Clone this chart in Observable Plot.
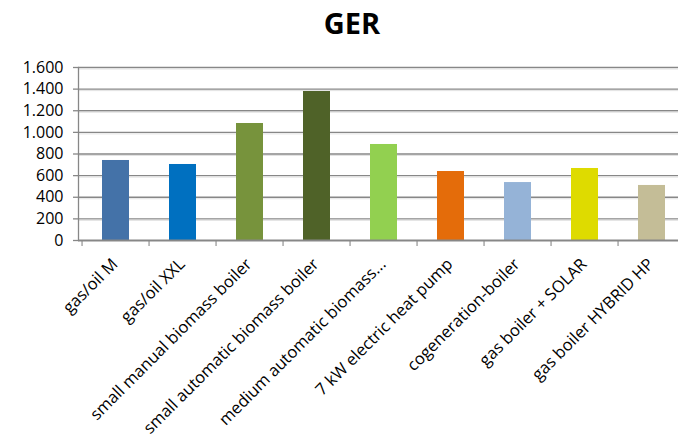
<!DOCTYPE html>
<html>
<head>
<meta charset="utf-8">
<script src="https://cdn.jsdelivr.net/npm/d3@7"></script>
<script src="https://cdn.jsdelivr.net/npm/@observablehq/plot@0.6"></script>
<style>
  html, body { margin: 0; padding: 0; background: #fff; overflow: hidden; }
  #wrap { position: relative; width: 678px; height: 448px; overflow: hidden; }
  #title { position: absolute; left: 0; width: 704px; top: 3px; text-align: center;
           font-family: "Open Sans", sans-serif; font-weight: bold; font-size: 29px; color: #000; line-height: 40px; }
  #chart { position: absolute; left: 0; top: 0; width: 690px; }
  #chart svg { max-width: none !important; width: 690px; height: 448px; }
</style>
</head>
<body>
<div id="wrap">
  <div id="title">GER</div>
  <div id="chart"></div>
</div>
<script>
const categories = ["gas/oil M", "gas/oil XXL", "small manual biomass boiler", "small automatic biomass boiler", "medium automatic biomass...", "7 kW electric heat pump", "cogeneration-boiler", "gas boiler + SOLAR", "gas boiler HYBRID HP"];
const values = [740, 703, 1082, 1378, 888, 638, 536, 666, 509];
const colors = ["#4472A8", "#0070C0", "#77933C", "#4F6228", "#92D050", "#E46C0A", "#95B3D7", "#DEDB00", "#C4BD97"];
const yTicks = [0, 200, 400, 600, 800, 1000, 1200, 1400, 1600];
const yTickLabels = ["0", "200", "400", "600", "800", "1.000", "1.200", "1.400", "1.600"];

const data = categories.map((c, i) => ({cat: c, value: values[i], color: colors[i]}));
const fmt = d => yTickLabels[yTicks.indexOf(d)];
const step = 611 / categories.length;

const plot = Plot.plot({
  width: 690,
  height: 448,
  marginLeft: 78,
  marginRight: 1,
  marginTop: 67,
  marginBottom: 208,
  style: {fontFamily: "'Open Sans', sans-serif", fontSize: "16px", color: "#000", overflow: "visible"},
  x: {domain: categories, paddingInner: 0.59, paddingOuter: 0.295, align: 0.5, label: null},
  y: {domain: [0, 1600], label: null},
  marks: [
    Plot.ruleY(yTicks.filter(d => d > 0), {stroke: "#878787", strokeWidth: 1.3}),
    Plot.ruleY(yTicks.filter(d => d > 0), {stroke: "#e2e2e2", strokeWidth: 1, dy: 1.5}),
    Plot.barY(data, {x: "cat", y: "value", fill: "color"}),
    Plot.frame({anchor: "left", stroke: "#878787", strokeWidth: 1.3}),
    Plot.axisY({ticks: yTicks, tickFormat: fmt, tickSize: 5, tickPadding: 10, stroke: "#878787", strokeWidth: 1.3, fill: "#000", fontSize: 16, label: null}),
    Plot.axisX({tickSize: 6, dx: -step / 2, text: null, stroke: "#9a9a9a", strokeWidth: 1.3, label: null}),
    Plot.ruleY([0], {stroke: "#878787", strokeWidth: 2.2}),
    Plot.axisX({tickSize: 0, tickRotate: -45, tickPadding: 21, dx: -1, fontSize: 16.5, fill: "#000", label: null})
  ]
});

document.getElementById("chart").appendChild(plot);
</script>
</body>
</html>
